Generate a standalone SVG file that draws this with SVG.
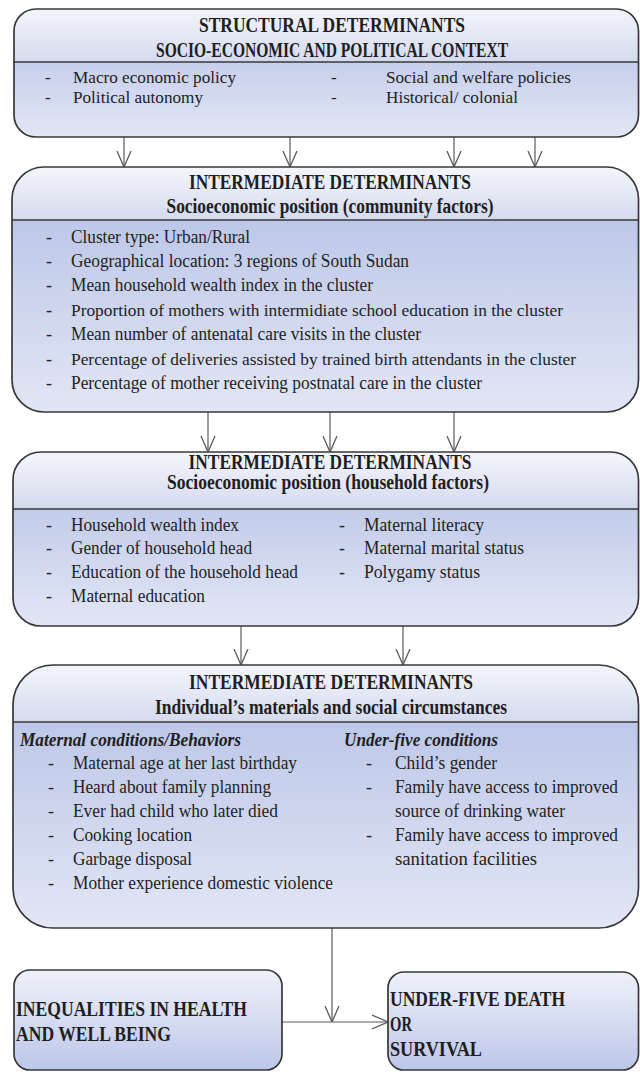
<svg xmlns="http://www.w3.org/2000/svg" width="640" height="1073" viewBox="0 0 640 1073">
  <style>
    .frame { stroke: #383838; stroke-width: 1.7; }
    .rule { stroke: #383838; stroke-width: 1.4; }
    .hd { font-family: "Liberation Serif", "Times New Roman", serif; font-weight: bold; font-size: 20px; fill: #1e1e1e; text-anchor: middle; }
    .it { font-family: "Liberation Serif", "Times New Roman", serif; font-size: 18px; fill: #222; }
    .sm { font-size: 17px; }
    .sub { font-family: "Liberation Serif", "Times New Roman", serif; font-weight: bold; font-style: italic; font-size: 18px; fill: #1e1e1e; }
    .out { font-family: "Liberation Serif", "Times New Roman", serif; font-weight: bold; font-size: 20px; fill: #1e1e1e; }
    .link { stroke: #5a5a5a; stroke-width: 1.2; fill: none; marker-end: url(#vhead); }
  </style>
  <defs>
    <linearGradient id="gHead" x1="0" y1="0" x2="0" y2="1">
      <stop offset="0" stop-color="#f4f5fb"/>
      <stop offset="1" stop-color="#d4daee"/>
    </linearGradient>
    <linearGradient id="gBody" x1="0" y1="0" x2="0" y2="1">
      <stop offset="0" stop-color="#b3bfe4"/>
      <stop offset="1" stop-color="#e2e6f5"/>
    </linearGradient>
    <linearGradient id="gOut" x1="0" y1="0" x2="0" y2="1">
      <stop offset="0" stop-color="#eff1fa"/>
      <stop offset="1" stop-color="#bcc6e8"/>
    </linearGradient>
    <marker id="vhead" viewBox="0 0 16 16" refX="16" refY="8" markerWidth="16" markerHeight="16" markerUnits="userSpaceOnUse" orient="auto">
      <path d="M0,1 L16,8 L0,15" fill="none" stroke="#5a5a5a" stroke-width="1.3"/>
    </marker>
    <clipPath id="c1"><rect x="14" y="9" width="624.5" height="128" rx="22"/></clipPath>
    <clipPath id="c2"><rect x="12" y="167" width="626.5" height="245" rx="32"/></clipPath>
    <clipPath id="c3"><rect x="13" y="452" width="625.5" height="174" rx="28"/></clipPath>
    <clipPath id="c4"><rect x="13" y="665" width="625.5" height="263" rx="40"/></clipPath>
  </defs>

  <rect width="640" height="1073" fill="#ffffff"/>

  <!-- connectors -->
  <g id="connectors">
    <line class="link" x1="124" y1="137" x2="124" y2="167"/>
    <line class="link" x1="290" y1="137" x2="290" y2="167"/>
    <line class="link" x1="454" y1="137" x2="454" y2="167"/>
    <line class="link" x1="535" y1="137" x2="535" y2="167"/>
    <line class="link" x1="208" y1="412" x2="208" y2="452"/>
    <line class="link" x1="330" y1="412" x2="330" y2="452"/>
    <line class="link" x1="454" y1="412" x2="454" y2="452"/>
    <line class="link" x1="241" y1="626" x2="241" y2="665"/>
    <line class="link" x1="403" y1="626" x2="403" y2="665"/>
    <line class="link" x1="332" y1="928" x2="332" y2="1022"/>
    <line class="link" x1="282" y1="1022" x2="388" y2="1022"/>
  </g>

  <!-- structural determinants -->
  <g id="structural">
    <g clip-path="url(#c1)">
      <rect x="14" y="9" width="625" height="128" fill="url(#gBody)"/>
      <rect x="14" y="9" width="625" height="53" fill="url(#gHead)"/>
    </g>
    <line class="rule" x1="14" y1="62" x2="638.5" y2="62"/>
    <rect class="frame" x="14" y="9" width="624.5" height="128" rx="22" fill="none"/>
    <text class="hd" x="332" y="32" textLength="266" lengthAdjust="spacingAndGlyphs">STRUCTURAL DETERMINANTS</text>
    <text class="hd" x="332" y="57" textLength="352" lengthAdjust="spacingAndGlyphs">SOCIO-ECONOMIC AND POLITICAL CONTEXT</text>
    <text class="it sm" x="45" y="83">-</text>
    <text class="it sm" x="73" y="83" textLength="163" lengthAdjust="spacingAndGlyphs">Macro economic policy</text>
    <text class="it sm" x="45" y="102.5">-</text>
    <text class="it sm" x="73" y="102.5" textLength="130" lengthAdjust="spacingAndGlyphs">Political autonomy</text>
    <text class="it sm" x="331" y="83">-</text>
    <text class="it sm" x="386" y="83" textLength="185" lengthAdjust="spacingAndGlyphs">Social and welfare policies</text>
    <text class="it sm" x="331" y="102.5">-</text>
    <text class="it sm" x="386" y="102.5" textLength="132" lengthAdjust="spacingAndGlyphs">Historical/ colonial</text>
  </g>

  <!-- community factors -->
  <g id="community">
    <g clip-path="url(#c2)">
      <rect x="12" y="167" width="627" height="245" fill="url(#gBody)"/>
      <rect x="12" y="167" width="627" height="53" fill="url(#gHead)"/>
    </g>
    <line class="rule" x1="12" y1="220" x2="638.5" y2="220"/>
    <rect class="frame" x="12" y="167" width="626.5" height="245" rx="32" fill="none"/>
    <text class="hd" x="330" y="189" textLength="282" lengthAdjust="spacingAndGlyphs">INTERMEDIATE DETERMINANTS</text>
    <text class="hd" x="330" y="213" textLength="327" lengthAdjust="spacingAndGlyphs">Socioeconomic position (community factors)</text>
    <text class="it" x="46" y="243">-</text>
    <text class="it" x="71" y="243" textLength="179" lengthAdjust="spacingAndGlyphs">Cluster type: Urban/Rural</text>
    <text class="it" x="46" y="267">-</text>
    <text class="it" x="71" y="267" textLength="338" lengthAdjust="spacingAndGlyphs">Geographical location: 3 regions of South Sudan</text>
    <text class="it" x="46" y="291">-</text>
    <text class="it" x="71" y="291" textLength="302" lengthAdjust="spacingAndGlyphs">Mean household wealth index in the cluster</text>
    <text class="it" x="46" y="316">-</text>
    <text class="it sm" x="71" y="316" textLength="492" lengthAdjust="spacingAndGlyphs">Proportion of mothers with intermidiate school education in the cluster</text>
    <text class="it" x="46" y="340">-</text>
    <text class="it" x="71" y="340" textLength="350" lengthAdjust="spacingAndGlyphs">Mean number of antenatal care visits in the cluster</text>
    <text class="it" x="46" y="365">-</text>
    <text class="it sm" x="71" y="365" textLength="505" lengthAdjust="spacingAndGlyphs">Percentage of deliveries assisted by trained birth attendants in the cluster</text>
    <text class="it" x="46" y="389">-</text>
    <text class="it" x="71" y="389" textLength="411" lengthAdjust="spacingAndGlyphs">Percentage of mother receiving postnatal care in the cluster</text>
  </g>

  <!-- household factors -->
  <g id="household">
    <g clip-path="url(#c3)">
      <rect x="13" y="452" width="626" height="174" fill="url(#gBody)"/>
      <rect x="13" y="452" width="626" height="57" fill="url(#gHead)"/>
    </g>
    <line class="rule" x1="13" y1="509" x2="638.5" y2="509"/>
    <rect class="frame" x="13" y="452" width="625.5" height="174" rx="28" fill="none"/>
    <text class="hd" x="330" y="469" textLength="283" lengthAdjust="spacingAndGlyphs">INTERMEDIATE DETERMINANTS</text>
    <text class="hd" x="328" y="489" textLength="322" lengthAdjust="spacingAndGlyphs">Socioeconomic position (household factors)</text>
    <text class="it" x="46" y="531">-</text>
    <text class="it" x="71" y="531" textLength="168" lengthAdjust="spacingAndGlyphs">Household wealth index</text>
    <text class="it" x="46" y="554">-</text>
    <text class="it" x="71" y="554" textLength="181" lengthAdjust="spacingAndGlyphs">Gender of household head</text>
    <text class="it" x="46" y="578">-</text>
    <text class="it" x="71" y="578" textLength="227" lengthAdjust="spacingAndGlyphs">Education of the household head</text>
    <text class="it" x="46" y="602">-</text>
    <text class="it" x="71" y="602" textLength="134" lengthAdjust="spacingAndGlyphs">Maternal education</text>
    <text class="it" x="339" y="531">-</text>
    <text class="it" x="364" y="531" textLength="120" lengthAdjust="spacingAndGlyphs">Maternal literacy</text>
    <text class="it" x="339" y="554">-</text>
    <text class="it" x="364" y="554" textLength="160" lengthAdjust="spacingAndGlyphs">Maternal marital status</text>
    <text class="it" x="339" y="578">-</text>
    <text class="it" x="364" y="578" textLength="116" lengthAdjust="spacingAndGlyphs">Polygamy status</text>
  </g>

  <!-- individual circumstances -->
  <g id="individual">
    <g clip-path="url(#c4)">
      <rect x="13" y="665" width="626" height="263" fill="url(#gBody)"/>
      <rect x="13" y="665" width="626" height="57" fill="url(#gHead)"/>
    </g>
    <line class="rule" x1="13" y1="722" x2="638.5" y2="722"/>
    <rect class="frame" x="13" y="665" width="625.5" height="263" rx="40" fill="none"/>
    <text class="hd" x="331" y="689" textLength="284" lengthAdjust="spacingAndGlyphs">INTERMEDIATE DETERMINANTS</text>
    <text class="hd" x="331" y="714" textLength="352" lengthAdjust="spacingAndGlyphs">Individual’s materials and social circumstances</text>
    <text class="sub" x="20" y="746" textLength="221" lengthAdjust="spacingAndGlyphs">Maternal conditions/Behaviors</text>
    <text class="it" x="48" y="769">-</text>
    <text class="it" x="73" y="769" textLength="224" lengthAdjust="spacingAndGlyphs">Maternal age at her last birthday</text>
    <text class="it" x="48" y="793">-</text>
    <text class="it" x="73" y="793" textLength="198" lengthAdjust="spacingAndGlyphs">Heard about family planning</text>
    <text class="it" x="48" y="817">-</text>
    <text class="it" x="73" y="817" textLength="205" lengthAdjust="spacingAndGlyphs">Ever had child who later died</text>
    <text class="it" x="48" y="841">-</text>
    <text class="it" x="73" y="841" textLength="119" lengthAdjust="spacingAndGlyphs">Cooking location</text>
    <text class="it" x="48" y="865">-</text>
    <text class="it" x="73" y="865" textLength="119" lengthAdjust="spacingAndGlyphs">Garbage disposal</text>
    <text class="it" x="48" y="889">-</text>
    <text class="it" x="73" y="889" textLength="260" lengthAdjust="spacingAndGlyphs">Mother experience domestic violence</text>
    <text class="sub" x="344" y="746" textLength="154" lengthAdjust="spacingAndGlyphs">Under-five conditions</text>
    <text class="it" x="366" y="769">-</text>
    <text class="it" x="395" y="769" textLength="102" lengthAdjust="spacingAndGlyphs">Child’s gender</text>
    <text class="it" x="366" y="793">-</text>
    <text class="it" x="395" y="793" textLength="223" lengthAdjust="spacingAndGlyphs">Family have access to improved</text>
    <text class="it" x="395" y="817" textLength="170" lengthAdjust="spacingAndGlyphs">source of drinking water</text>
    <text class="it" x="366" y="841">-</text>
    <text class="it" x="395" y="841" textLength="223" lengthAdjust="spacingAndGlyphs">Family have access to improved</text>
    <text class="it" x="395" y="865" textLength="142" lengthAdjust="spacingAndGlyphs">sanitation facilities</text>
  </g>

  <!-- outcome boxes -->
  <g id="inequalities">
    <rect class="frame" x="14" y="970" width="268" height="100" rx="16" fill="url(#gOut)"/>
    <text class="out" x="16" y="1016" textLength="231" lengthAdjust="spacingAndGlyphs">INEQUALITIES IN HEALTH</text>
    <text class="out" x="16" y="1041" textLength="155" lengthAdjust="spacingAndGlyphs">AND WELL BEING</text>
  </g>
  <g id="outcome">
    <rect class="frame" x="388" y="972" width="250.5" height="98" rx="16" fill="url(#gOut)"/>
    <text class="out" x="390" y="1006" textLength="175" lengthAdjust="spacingAndGlyphs">UNDER-FIVE DEATH</text>
    <text class="out" x="390" y="1031" textLength="22" lengthAdjust="spacingAndGlyphs">OR</text>
    <text class="out" x="390" y="1056" textLength="92" lengthAdjust="spacingAndGlyphs">SURVIVAL</text>
  </g>
</svg>
